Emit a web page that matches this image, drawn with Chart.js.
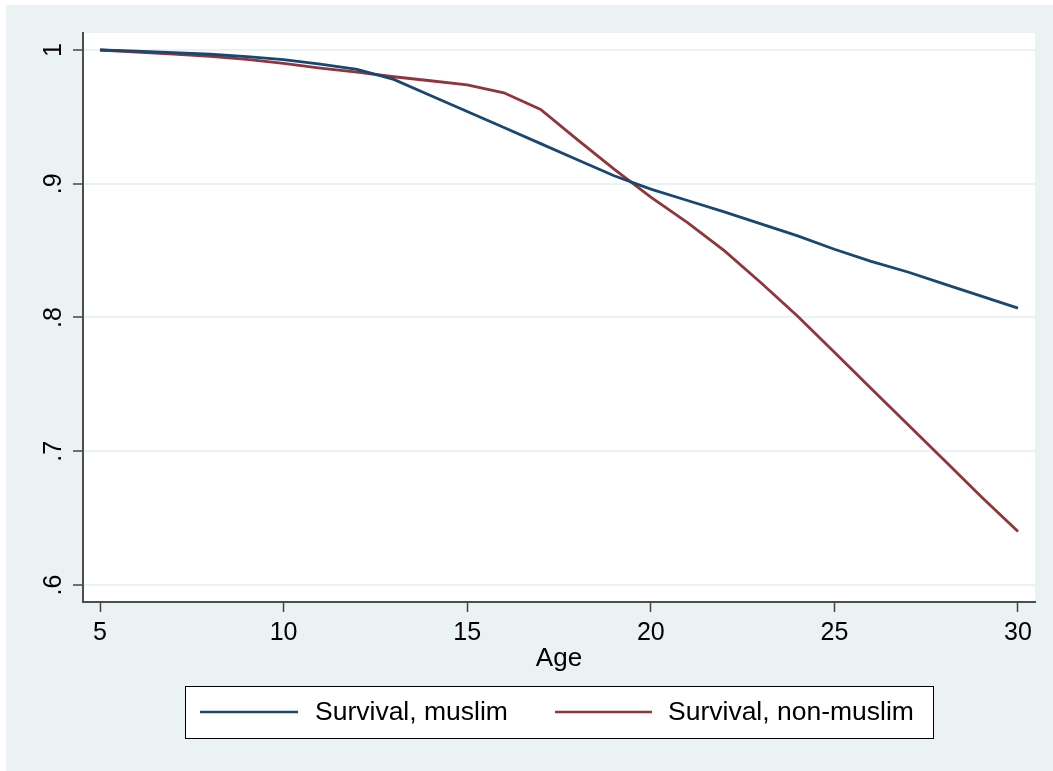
<!DOCTYPE html>
<html>
<head>
<meta charset="utf-8">
<script src="https://cdn.jsdelivr.net/npm/chart.js@4"></script>
<style>
  body { margin: 0; background: #ffffff; }
  canvas { display: block; }
</style>
</head>
<body>
<canvas id="survChart" width="1053" height="771"></canvas>
<script>
// data
const ages = [5, 6, 7, 8, 9, 10, 11, 12, 13, 14, 15, 16, 17, 18, 19, 20, 21, 22, 23, 24, 25, 26, 27, 28, 29, 30];
const survMuslim = [1.000, 0.9992, 0.998, 0.9968, 0.995, 0.9928, 0.9895, 0.9855, 0.978, 0.966, 0.954, 0.942, 0.930,
  0.918, 0.906, 0.896, 0.8875, 0.879, 0.870, 0.861, 0.851, 0.842, 0.834, 0.825, 0.816, 0.807];
const survNonMuslim = [1.000, 0.9985, 0.997, 0.9952, 0.993, 0.990, 0.9865, 0.9835, 0.980, 0.977, 0.974, 0.968, 0.9556,
  0.933, 0.911, 0.890, 0.871, 0.850, 0.826, 0.801, 0.774, 0.747, 0.720, 0.693, 0.666, 0.640];
const xTicks = [5, 10, 15, 20, 25, 30];
const yTicks = [0.6, 0.7, 0.8, 0.9, 1];
const yTickLabels = ['.6', '.7', '.8', '.9', '1'];

const FONT = "'Liberation Sans', Arial, sans-serif";
const BG = '#eaf2f3';

// background: white edge, stata blue-gray, white plot region
const backdrop = {
  id: 'backdrop',
  beforeDraw(chart) {
    const c = chart.ctx, a = chart.chartArea;
    c.save();
    c.fillStyle = '#ffffff';
    c.fillRect(0, 0, chart.width, chart.height);
    c.fillStyle = BG;
    c.fillRect(6, 5, chart.width - 6, chart.height - 5);
    c.fillStyle = '#ffffff';
    c.fillRect(a.left, a.top, a.right - a.left, a.bottom - a.top);
    c.restore();
  }
};

// rotated y labels, like stata
const yLabels = {
  id: 'yLabels',
  afterDraw(chart) {
    const c = chart.ctx, y = chart.scales.y;
    c.save();
    c.fillStyle = '#000000';
    c.font = '25px ' + FONT;
    c.textAlign = 'center';
    c.textBaseline = 'alphabetic';
    yTicks.forEach((v, i) => {
      c.save();
      c.translate(61, y.getPixelForValue(v));
      c.rotate(-Math.PI / 2);
      c.fillText(yTickLabels[i], 0, 0);
      c.restore();
    });
    c.restore();
  }
};

// boxed legend under the plot
const boxLegend = {
  id: 'boxLegend',
  afterDraw(chart) {
    const c = chart.ctx;
    const ds = chart.data.datasets;
    const items = [{ x0: 200, x1: 298, tx: 315 }, { x0: 555, x1: 652, tx: 668 }];
    const ly = 712;
    c.save();
    c.fillStyle = '#ffffff';
    c.fillRect(185, 686, 748, 52);
    c.strokeStyle = '#000000';
    c.lineWidth = 1;
    c.strokeRect(185.5, 686.5, 748, 52);
    c.font = '26.5px ' + FONT;
    c.textBaseline = 'middle';
    c.textAlign = 'left';
    ds.forEach((d, i) => {
      const it = items[i];
      c.strokeStyle = d.borderColor;
      c.lineWidth = 2.5;
      c.beginPath();
      c.moveTo(it.x0, ly);
      c.lineTo(it.x1, ly);
      c.stroke();
      c.fillStyle = '#000000';
      c.fillText(d.label, it.tx, ly + 1);
    });
    c.restore();
  }
};

const ctx = document.getElementById('survChart');

new Chart(ctx, {
  type: 'line',
  data: {
    datasets: [
      {
        label: 'Survival, muslim',
        data: ages.map((a, i) => ({ x: a, y: survMuslim[i] })),
        borderColor: '#1a476f',
        borderWidth: 2.8,
        pointRadius: 0,
        tension: 0,
        fill: false
      },
      {
        label: 'Survival, non-muslim',
        data: ages.map((a, i) => ({ x: a, y: survNonMuslim[i] })),
        borderColor: '#90353b',
        borderWidth: 2.8,
        pointRadius: 0,
        tension: 0,
        fill: false
      }
    ]
  },
  options: {
    responsive: false,
    animation: false,
    layout: { padding: { left: 0, right: 18, top: 33, bottom: 0 } },
    plugins: {
      legend: { display: false },
      tooltip: { enabled: false }
    },
    scales: {
      x: {
        type: 'linear',
        min: 4.537,
        max: 30.463,
        afterBuildTicks: (s) => { s.ticks = xTicks.map(v => ({ value: v })); },
        afterFit: (s) => { s.height = 169; },
        grid: {
          drawOnChartArea: false,
          tickLength: 10,
          tickColor: '#444444',
          tickWidth: 1.5
        },
        border: { color: '#4d4d4d', width: 2 },
        ticks: {
          color: '#000000',
          font: { family: FONT, size: 25 },
          padding: 6,
          maxRotation: 0
        },
        title: {
          display: true,
          text: 'Age',
          color: '#000000',
          font: { family: FONT, size: 26 },
          padding: { top: 0, bottom: 97 }
        }
      },
      y: {
        type: 'linear',
        min: 0.5873,
        max: 1.0127,
        afterBuildTicks: (s) => { s.ticks = yTicks.map(v => ({ value: v })); },
        afterFit: (s) => { s.width = 83; },
        grid: {
          color: BG,
          lineWidth: 2,
          tickLength: 10,
          tickColor: '#444444',
          tickWidth: 1.5
        },
        border: { color: '#4d4d4d', width: 2 },
        ticks: {
          color: 'rgba(0,0,0,0)',
          callback: () => ''
        }
      }
    }
  },
  plugins: [backdrop, yLabels, boxLegend]
});
</script>
</body>
</html>
